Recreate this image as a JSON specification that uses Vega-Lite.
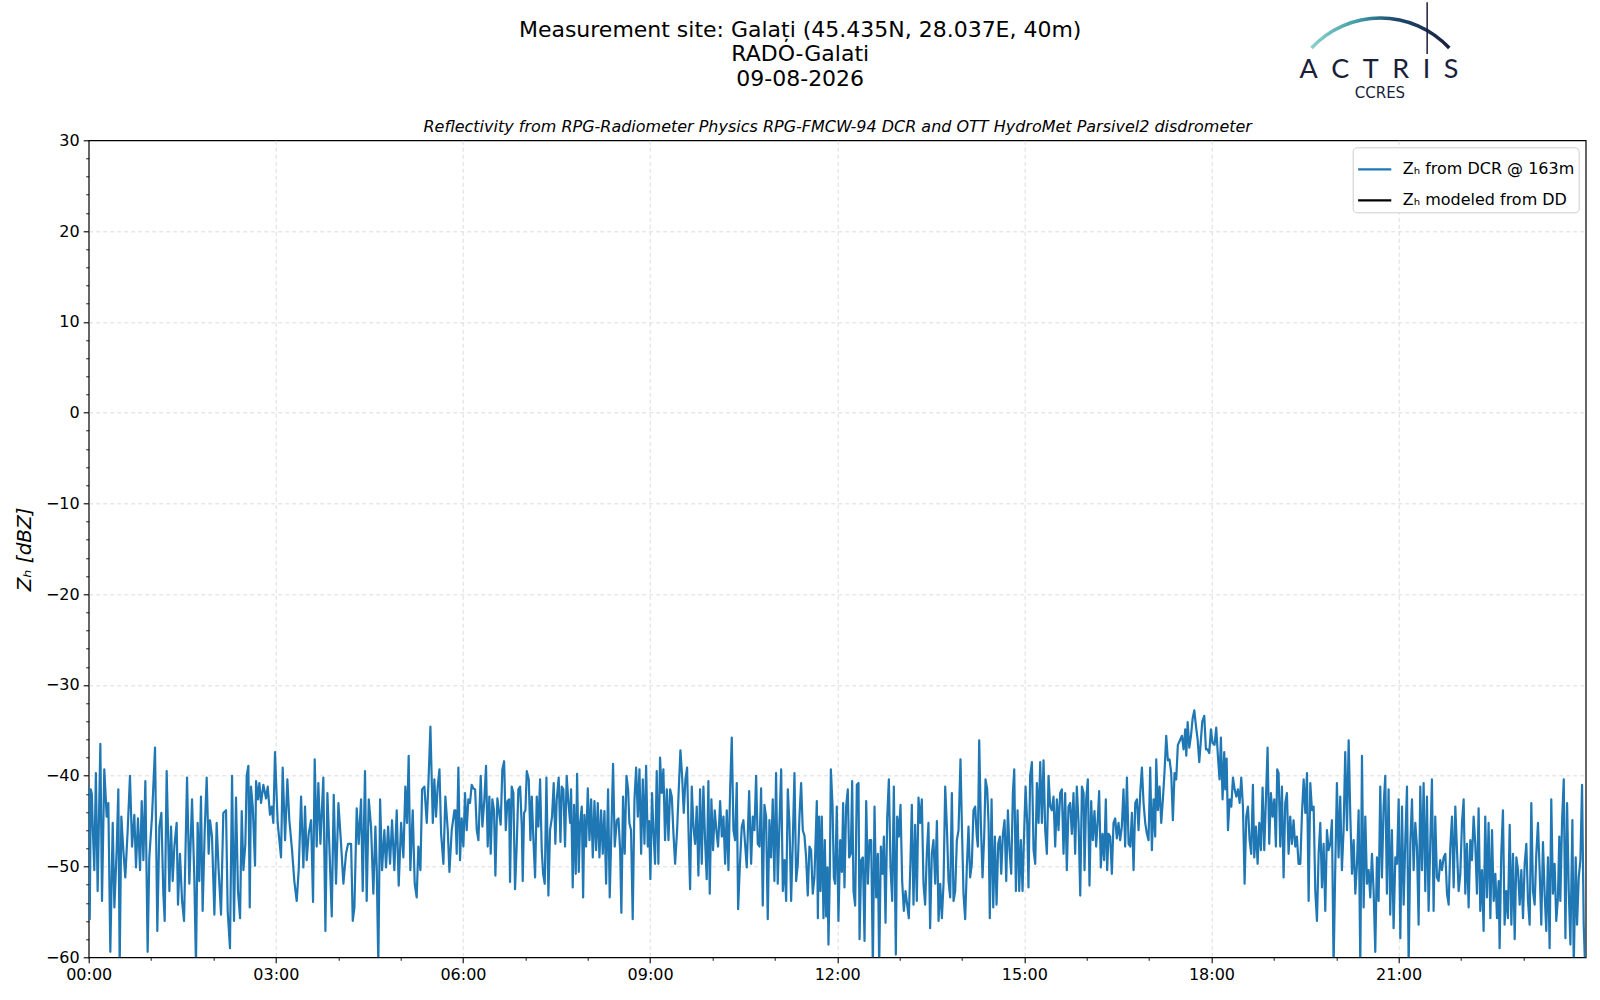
{
"$schema":"https://vega.github.io/schema/vega-lite/v6.json",
"width":1497,"height":817,
"autosize":{"type":"none"},
"padding":{"left":88.7,"top":140.3,"right":14.7,"bottom":42.7},
"background":"white",
"title":{"text":["Measurement site: Galați (45.435N, 28.037E, 40m)","RADO-Galati","09-08-2026"],"font":"DejaVu Sans","fontSize":22,"fontWeight":"normal","color":"black","anchor":"middle","frame":"group","dx":-37,"dy":118,"lineHeight":24.5,"offset":29},
"config":{"view":{"stroke":"black","strokeWidth":1.2},"font":"DejaVu Sans"},
"resolve":{"axis":{"x":"independent","y":"independent"}},
"layer":[
{"data":{"values":[
{"t":0,"z":-41.2},{"t":1,"z":-55.8},{"t":2,"z":-41.5},{"t":3,"z":-42},{"t":4,"z":-46},{"t":5.4,"z":-50.4},{"t":6.9,"z":-39.7},{"t":8.6,"z":-52.7},{"t":11.2,"z":-36.5},{"t":12.8,"z":-53.8},{"t":15,"z":-39.3},{"t":17.3,"z":-44.5},{"t":18.9,"z":-43},{"t":20.8,"z":-59.4},{"t":23.1,"z":-45.2},{"t":24.7,"z":-54.5},{"t":26.9,"z":-48.2},{"t":28.5,"z":-41.5},{"t":29.8,"z":-61},{"t":31.4,"z":-44.5},{"t":33.3,"z":-48.2},{"t":35.2,"z":-51.2},{"t":37.5,"z":-46},{"t":39.7,"z":-40},{"t":41.7,"z":-47.8},{"t":43.9,"z":-44.3},{"t":45.5,"z":-50.1},{"t":47.4,"z":-44.7},{"t":49.4,"z":-50.4},{"t":51,"z":-42.8},{"t":52.6,"z":-49.3},{"t":54.5,"z":-40.6},{"t":56.7,"z":-59.4},{"t":58.3,"z":-49},{"t":60.9,"z":-44.5},{"t":63.8,"z":-36.9},{"t":66,"z":-57.1},{"t":68,"z":-45.6},{"t":69.9,"z":-44.1},{"t":71.8,"z":-53},{"t":73.1,"z":-56},{"t":75,"z":-39.5},{"t":77.6,"z":-52.7},{"t":79.2,"z":-45.6},{"t":80.8,"z":-51.6},{"t":82.4,"z":-47.8},{"t":84.6,"z":-45.2},{"t":85.9,"z":-54.2},{"t":87.8,"z":-48.6},{"t":89.8,"z":-53.8},{"t":91.7,"z":-56},{"t":94.6,"z":-40.2},{"t":96.8,"z":-51.9},{"t":99.4,"z":-42.6},{"t":101.6,"z":-51.2},{"t":103.2,"z":-61},{"t":104.8,"z":-45.2},{"t":106.4,"z":-51.6},{"t":108,"z":-42.3},{"t":109.6,"z":-54.9},{"t":111.6,"z":-46},{"t":113.5,"z":-40.2},{"t":115.4,"z":-48.6},{"t":116.7,"z":-44.9},{"t":118.6,"z":-46.7},{"t":120.9,"z":-55.3},{"t":123.1,"z":-45.2},{"t":125,"z":-50.4},{"t":127.3,"z":-55.3},{"t":129.5,"z":-44.1},{"t":132.1,"z":-43.8},{"t":133.7,"z":-54.9},{"t":135.9,"z":-59},{"t":137.9,"z":-40},{"t":139.8,"z":-56},{"t":141.7,"z":-42.4},{"t":143.6,"z":-52.7},{"t":145.6,"z":-55.7},{"t":147.2,"z":-43.9},{"t":148.8,"z":-50.4},{"t":150.7,"z":-47.5},{"t":152,"z":-40},{"t":153.6,"z":-38.9},{"t":154.9,"z":-54.5},{"t":156.1,"z":-41.2},{"t":157.8,"z":-43.4},{"t":160,"z":-49.9},{"t":161,"z":-40.6},{"t":162.9,"z":-42.6},{"t":164.2,"z":-40.8},{"t":165.8,"z":-43},{"t":168,"z":-41},{"t":170.6,"z":-42.5},{"t":172.2,"z":-41.2},{"t":174.4,"z":-44.3},{"t":176,"z":-43.4},{"t":177.6,"z":-45.2},{"t":179.2,"z":-37.4},{"t":181.8,"z":-45.2},{"t":185,"z":-49},{"t":186.6,"z":-39.1},{"t":188.9,"z":-47.1},{"t":191.1,"z":-40.4},{"t":193,"z":-44.9},{"t":195.6,"z":-48.2},{"t":197.8,"z":-51.6},{"t":200.1,"z":-53.8},{"t":202,"z":-50.4},{"t":204.3,"z":-42.3},{"t":206.5,"z":-50.1},{"t":208.1,"z":-43.4},{"t":209.7,"z":-49.3},{"t":211.6,"z":-46.4},{"t":213.9,"z":-44.9},{"t":215.8,"z":-53.9},{"t":217.4,"z":-38.2},{"t":219.3,"z":-47.8},{"t":220.9,"z":-40.8},{"t":222.9,"z":-47.5},{"t":225.7,"z":-40.2},{"t":227.7,"z":-57.1},{"t":229.6,"z":-41.9},{"t":231.5,"z":-47.8},{"t":233.8,"z":-55.5},{"t":235.7,"z":-42.1},{"t":237.9,"z":-51.9},{"t":240.2,"z":-43},{"t":242.7,"z":-47.4},{"t":245,"z":-51.9},{"t":247.5,"z":-48.6},{"t":249.5,"z":-47.5},{"t":252.4,"z":-47.5},{"t":254,"z":-56},{"t":255.6,"z":-54.5},{"t":257.8,"z":-43.6},{"t":259.7,"z":-47.5},{"t":262,"z":-42.6},{"t":263.6,"z":-52.7},{"t":265.8,"z":-39.5},{"t":267.4,"z":-53.8},{"t":269.4,"z":-42.6},{"t":271.6,"z":-45.6},{"t":273.8,"z":-53},{"t":275.8,"z":-45.6},{"t":277.1,"z":-50.4},{"t":278.6,"z":-61},{"t":280.3,"z":-42.6},{"t":282.2,"z":-50.4},{"t":284.4,"z":-46},{"t":286,"z":-50.1},{"t":288,"z":-45.6},{"t":289.9,"z":-49.7},{"t":291.8,"z":-44.9},{"t":294,"z":-50.4},{"t":296.3,"z":-43.8},{"t":298.2,"z":-52.1},{"t":300.5,"z":-45.2},{"t":302.7,"z":-49},{"t":304.6,"z":-41.2},{"t":306.2,"z":-45.2},{"t":307.8,"z":-37.8},{"t":309.4,"z":-50.4},{"t":311.7,"z":-43.8},{"t":313.6,"z":-51.9},{"t":315.5,"z":-53.4},{"t":317.1,"z":-47.8},{"t":319.1,"z":-50.4},{"t":320.7,"z":-41.5},{"t":322.9,"z":-41.2},{"t":325.2,"z":-45.2},{"t":326.8,"z":-40.8},{"t":328.7,"z":-34.6},{"t":331,"z":-45.2},{"t":332.5,"z":-40.4},{"t":334.1,"z":-44.5},{"t":335.7,"z":-41.2},{"t":337.4,"z":-39.3},{"t":339,"z":-46.4},{"t":341.2,"z":-49.7},{"t":343.1,"z":-42.3},{"t":345.4,"z":-46},{"t":347,"z":-50.6},{"t":349.2,"z":-46},{"t":351.8,"z":-43.8},
{"t":352.7,"z":-43.8},{"t":354,"z":-48.6},{"t":355.6,"z":-39.1},{"t":357.2,"z":-49.3},{"t":358.8,"z":-44.7},{"t":360.4,"z":-47.8},{"t":362,"z":-41.9},{"t":363.6,"z":-46},{"t":365.2,"z":-42.6},{"t":366.8,"z":-43},{"t":368.4,"z":-41},{"t":370,"z":-41.4},{"t":371.7,"z":-41.5},{"t":373.3,"z":-46},{"t":374.9,"z":-47.1},{"t":377.1,"z":-40},{"t":378.7,"z":-45.6},{"t":380.6,"z":-42.6},{"t":382.2,"z":-38.9},{"t":383.8,"z":-47.8},{"t":385.4,"z":-42.3},{"t":386.7,"z":-48.6},{"t":388.3,"z":-42.6},{"t":389.9,"z":-43.8},{"t":391.2,"z":-51},{"t":393.1,"z":-42.5},{"t":395.1,"z":-44.3},{"t":396.3,"z":-45.4},{"t":397.9,"z":-39.3},{"t":399.6,"z":-38.4},{"t":401.2,"z":-46},{"t":402.8,"z":-42.8},{"t":404.4,"z":-42.6},{"t":405.3,"z":-51.7},{"t":406.9,"z":-41.2},{"t":408.5,"z":-41.9},{"t":410.1,"z":-52.5},{"t":411.7,"z":-47.8},{"t":413.3,"z":-41.5},{"t":415,"z":-41.2},{"t":416.6,"z":-45.6},{"t":417.5,"z":-51.6},{"t":418.8,"z":-44.1},{"t":420.1,"z":-43.8},{"t":421.4,"z":-39.5},{"t":423.3,"z":-40.4},{"t":424.9,"z":-47.1},{"t":426.2,"z":-42.3},{"t":427.8,"z":-47.1},{"t":429.4,"z":-51.2},{"t":431,"z":-42.3},{"t":432.6,"z":-45.6},{"t":434.2,"z":-40.4},{"t":435.8,"z":-48.2},{"t":437.1,"z":-50.8},{"t":438.7,"z":-51.9},{"t":440.3,"z":-40.2},{"t":442.2,"z":-53.2},{"t":443.8,"z":-46},{"t":445.7,"z":-44.5},{"t":447.3,"z":-40.8},{"t":448.9,"z":-47.5},{"t":450.2,"z":-42.6},{"t":452.1,"z":-40.2},{"t":453.8,"z":-47.3},{"t":455,"z":-41.2},{"t":456.6,"z":-41.5},{"t":458.2,"z":-47.8},{"t":459.8,"z":-40},{"t":461.5,"z":-43},{"t":463.1,"z":-45.2},{"t":464,"z":-41.5},{"t":465.6,"z":-52.3},{"t":466.9,"z":-43.2},{"t":468.5,"z":-50.8},{"t":469.8,"z":-39.8},{"t":471.4,"z":-50.6},{"t":472.7,"z":-45.2},{"t":474.3,"z":-43.4},{"t":475.6,"z":-53.4},{"t":476.8,"z":-44.3},{"t":478.4,"z":-47.8},{"t":480.1,"z":-41.4},{"t":481.7,"z":-47.1},{"t":483.3,"z":-42.6},{"t":484.9,"z":-49},{"t":486.5,"z":-42.8},{"t":488.1,"z":-48.2},{"t":489.7,"z":-43},{"t":491.3,"z":-49},{"t":492.9,"z":-43.8},{"t":494.5,"z":-48.6},{"t":496.1,"z":-43.9},{"t":497.7,"z":-51.9},{"t":499.6,"z":-41.5},{"t":501.2,"z":-53.4},{"t":502.8,"z":-46},{"t":504.4,"z":-38.7},{"t":506,"z":-47.8},{"t":508,"z":-44.9},{"t":509.6,"z":-44.7},{"t":511.2,"z":-48.2},{"t":512.4,"z":-55.1},{"t":514,"z":-42.3},{"t":515.6,"z":-48.6},{"t":517.3,"z":-40},{"t":518.9,"z":-41.5},{"t":520.1,"z":-45.2},{"t":521.7,"z":-46},{"t":523.3,"z":-55.8},{"t":525,"z":-42.6},{"t":526.6,"z":-39.1},{"t":528.2,"z":-44.5},{"t":529.8,"z":-39.3},{"t":531.4,"z":-48.6},{"t":533,"z":-40.4},{"t":534.6,"z":-47.5},{"t":536.2,"z":-38.9},{"t":537.8,"z":-47.8},{"t":539.1,"z":-45},{"t":540.3,"z":-51.4},{"t":541.9,"z":-41.9},{"t":543.2,"z":-46},{"t":544.8,"z":-49.7},{"t":546.4,"z":-39.5},{"t":548,"z":-49.7},{"t":549.6,"z":-38},{"t":551.2,"z":-41.9},{"t":552.8,"z":-39.3},{"t":554.4,"z":-47.1},{"t":556.1,"z":-41.5},{"t":557.7,"z":-47.1},{"t":559.3,"z":-41.5},{"t":560.9,"z":-42.3},{"t":562.5,"z":-46.4},{"t":564.1,"z":-49.7},{"t":566,"z":-46},{"t":567.6,"z":-41.5},{"t":569.2,"z":-37.2},{"t":570.8,"z":-40},{"t":572.4,"z":-44.1},{"t":574,"z":-40.4},{"t":575.6,"z":-39.1},{"t":577.2,"z":-47.1},{"t":578.5,"z":-52.5},{"t":580.1,"z":-41.2},{"t":581.7,"z":-45.6},{"t":583.3,"z":-47.5},{"t":584.9,"z":-43.4},{"t":586.5,"z":-51},{"t":588.1,"z":-41.5},{"t":589.7,"z":-49.7},{"t":591.3,"z":-41.2},{"t":592.9,"z":-47.1},{"t":594.5,"z":-51.4},{"t":596.1,"z":-40.6},{"t":597.4,"z":-53},{"t":599,"z":-42.6},{"t":600.6,"z":-48.2},{"t":602.2,"z":-43.8},{"t":603.8,"z":-46},{"t":605.4,"z":-47.8},{"t":607.4,"z":-42.8},{"t":609,"z":-46.7},{"t":610.6,"z":-44.5},{"t":612.2,"z":-49.7},{"t":613.8,"z":-43.8},{"t":615.4,"z":-50.4},{"t":617,"z":-41.5},{"t":618.6,"z":-35.8},{"t":620.2,"z":-46},{"t":621.8,"z":-47.1},{"t":623.4,"z":-40.8},{"t":624.7,"z":-54.7},{"t":626.3,"z":-50.1},{"t":628.2,"z":-45.6},{"t":629.8,"z":-44.9},{"t":631.4,"z":-47.5},{"t":633,"z":-50.1},{"t":635.3,"z":-41.7},{"t":637.2,"z":-49.7},{"t":638.8,"z":-44.5},{"t":640.4,"z":-46},{"t":642,"z":-40},{"t":643.6,"z":-47.5},{"t":645.2,"z":-47.8},{"t":646.8,"z":-41.4},{"t":648.4,"z":-54.3},{"t":650,"z":-43.2},{"t":651.6,"z":-44.5},{"t":653.2,"z":-55.8},{"t":654.8,"z":-44.9},{"t":656.4,"z":-49},{"t":658,"z":-42.6},{"t":659.6,"z":-51.6},{"t":661.2,"z":-39.7},{"t":662.8,"z":-51.9},{"t":664.5,"z":-45.2},{"t":666.1,"z":-39.3},{"t":667.7,"z":-52.7},{"t":669.3,"z":-49.3},{"t":670.9,"z":-53.8},{"t":672.5,"z":-41.5},{"t":674.1,"z":-45.4},{"t":675.7,"z":-53.8},{"t":677.3,"z":-47.1},{"t":678.9,"z":-39.7},{"t":680.5,"z":-51.6},{"t":682.1,"z":-49.7},{"t":683.7,"z":-44.5},{"t":685.3,"z":-40.8},{"t":686.9,"z":-46},{"t":688.5,"z":-46.6},{"t":690.1,"z":-49},{"t":691.7,"z":-53.2},{"t":693.3,"z":-47.8},{"t":694.9,"z":-48.2},{"t":696.5,"z":-53},{"t":698.1,"z":-51.2},
{"t":700.4,"z":-42.8},{"t":701.4,"z":-55.7},{"t":702.6,"z":-44.5},{"t":703.9,"z":-52.7},{"t":705.2,"z":-44.5},{"t":706.8,"z":-55.7},{"t":708.1,"z":-47.1},{"t":709.4,"z":-55.5},{"t":710.7,"z":-50.1},{"t":711.6,"z":-58.6},{"t":712.9,"z":-50.8},{"t":713.9,"z":-39.3},{"t":715.5,"z":-43.2},{"t":716.8,"z":-51.2},{"t":718,"z":-51.9},{"t":719.6,"z":-43.4},{"t":721.2,"z":-56},{"t":722.9,"z":-47.1},{"t":724.5,"z":-50.6},{"t":725.7,"z":-43},{"t":727,"z":-52.3},{"t":728.6,"z":-43.4},{"t":730.2,"z":-41.5},{"t":731.5,"z":-49},{"t":733.1,"z":-48.6},{"t":734.4,"z":-40.6},{"t":735.7,"z":-52.7},{"t":737.3,"z":-54.3},{"t":738.9,"z":-41},{"t":740.5,"z":-40.8},{"t":741.5,"z":-58},{"t":743.1,"z":-49.3},{"t":744.7,"z":-49},{"t":746.3,"z":-58.2},{"t":747.9,"z":-42.8},{"t":749.5,"z":-51.9},{"t":751.1,"z":-47.1},{"t":752.7,"z":-47.1},{"t":754.3,"z":-61},{"t":755.9,"z":-43.4},{"t":757.5,"z":-53.4},{"t":759.1,"z":-48.6},{"t":760.4,"z":-61},{"t":762,"z":-47.8},{"t":763.6,"z":-50.8},{"t":764.9,"z":-46.7},{"t":766.5,"z":-56.2},{"t":768.1,"z":-44.7},{"t":769.7,"z":-40.4},{"t":771.3,"z":-50.1},{"t":772.9,"z":-53.8},{"t":774.5,"z":-41.2},{"t":776.4,"z":-59.7},{"t":777.7,"z":-44.5},{"t":779.3,"z":-46.7},{"t":780.9,"z":-43.2},{"t":782.5,"z":-51.6},{"t":784.1,"z":-54.9},{"t":785.7,"z":-52.7},{"t":787.3,"z":-54.2},{"t":788.9,"z":-55.7},{"t":790.5,"z":-49.3},{"t":791.8,"z":-43.2},{"t":793.4,"z":-54.2},{"t":795,"z":-45.4},{"t":796.6,"z":-53.8},{"t":798.2,"z":-42.4},{"t":799.8,"z":-45.2},{"t":801.4,"z":-42.6},{"t":803,"z":-51.9},{"t":804.6,"z":-54.2},{"t":806.2,"z":-48.6},{"t":807.8,"z":-45.2},{"t":809.4,"z":-56.8},{"t":811,"z":-48.6},{"t":812.6,"z":-47.1},{"t":814.3,"z":-51.9},{"t":815.9,"z":-45},{"t":817.5,"z":-56},{"t":819.1,"z":-51.9},{"t":820.7,"z":-55.7},{"t":822.3,"z":-51.9},{"t":823.9,"z":-41.2},{"t":825.5,"z":-45.6},{"t":827.1,"z":-51.6},{"t":828.7,"z":-53.4},{"t":830.3,"z":-41.9},{"t":831.9,"z":-53.8},{"t":833.5,"z":-52.7},{"t":835.1,"z":-47.1},{"t":836.7,"z":-46},{"t":838.6,"z":-38.2},{"t":839.9,"z":-45.2},{"t":841.5,"z":-53},{"t":843.1,"z":-55.8},{"t":844.7,"z":-50.1},{"t":846.3,"z":-45.6},{"t":847.9,"z":-51.2},{"t":849.5,"z":-49.7},{"t":851.1,"z":-43.8},{"t":852.7,"z":-43.4},{"t":854.3,"z":-46.7},{"t":855.3,"z":-47.8},{"t":856.6,"z":-36.1},{"t":858.2,"z":-45.2},{"t":859.8,"z":-51.2},{"t":861.4,"z":-46.7},{"t":862.7,"z":-40.4},{"t":864.3,"z":-41.5},{"t":865.6,"z":-45.2},{"t":866.8,"z":-55.7},{"t":868.5,"z":-42.6},{"t":870.1,"z":-54.5},{"t":871.7,"z":-46.7},{"t":873.3,"z":-54.2},{"t":874.9,"z":-47.5},{"t":876.5,"z":-46.7},{"t":877.8,"z":-50.8},{"t":879.4,"z":-46.4},{"t":881,"z":-44.9},{"t":882.6,"z":-51.6},{"t":884.2,"z":-43.8},{"t":885.8,"z":-48.2},{"t":887.4,"z":-50.8},{"t":889,"z":-41.9},{"t":890.3,"z":-39.3},{"t":891.9,"z":-52.7},{"t":893.5,"z":-43.8},{"t":895.1,"z":-52.7},{"t":896.7,"z":-47.1},{"t":898.3,"z":-52.7},{"t":899.6,"z":-47.1},{"t":901.2,"z":-41.2},{"t":902.8,"z":-45.2},{"t":904,"z":-52.3},{"t":905.6,"z":-40},{"t":907.3,"z":-38.5},{"t":908.9,"z":-48.2},{"t":910.5,"z":-49.7},{"t":912.1,"z":-40.8},{"t":913.7,"z":-45.2},{"t":915.3,"z":-38.5},{"t":916.9,"z":-45.2},{"t":918.5,"z":-38.3},{"t":920.1,"z":-46},{"t":921.7,"z":-48.6},{"t":923.3,"z":-40},{"t":924.9,"z":-43.4},{"t":926.5,"z":-43.8},{"t":928.1,"z":-42.3},{"t":929.7,"z":-47.8},{"t":931.3,"z":-42.6},{"t":932.9,"z":-46},{"t":934.5,"z":-41.9},{"t":936.1,"z":-41.5},{"t":937.7,"z":-48.6},{"t":939.3,"z":-41.9},{"t":940.9,"z":-50.4},{"t":942.5,"z":-43.4},{"t":944.1,"z":-43},{"t":945.7,"z":-46.4},{"t":947.3,"z":-41.9},{"t":948.9,"z":-48.6},{"t":950.5,"z":-41.2},{"t":952.2,"z":-45.2},{"t":953.8,"z":-53.2},{"t":955.4,"z":-41.2},{"t":957,"z":-41.9},{"t":957.9,"z":-50.4},{"t":959.5,"z":-42.6},{"t":961.1,"z":-40.4},{"t":962.7,"z":-52.1},{"t":964.3,"z":-42.8},{"t":965.9,"z":-47.1},{"t":967.5,"z":-43.9},{"t":969.1,"z":-47.8},{"t":970.8,"z":-44.5},{"t":972,"z":-41.7},{"t":973.6,"z":-50.1},{"t":975.2,"z":-46.4},{"t":976.8,"z":-49.3},{"t":978.4,"z":-42.6},{"t":979.7,"z":-50.4},{"t":981,"z":-46.4},{"t":982.6,"z":-46.7},{"t":984.2,"z":-50.8},{"t":985.8,"z":-45.2},{"t":987.4,"z":-44.7},{"t":989,"z":-46.9},{"t":990.6,"z":-45.2},{"t":992.2,"z":-47.1},{"t":993.8,"z":-45.6},{"t":995.4,"z":-41.5},{"t":997,"z":-47.8},{"t":998.7,"z":-40.2},{"t":1000.3,"z":-47.5},{"t":1001.9,"z":-47.8},{"t":1003.5,"z":-44.1},{"t":1005.1,"z":-50.4},{"t":1006.7,"z":-43},{"t":1008.3,"z":-42.6},{"t":1009.9,"z":-46},{"t":1011.5,"z":-41.9},{"t":1013.1,"z":-39.1},{"t":1014.7,"z":-43},{"t":1016.3,"z":-45.2},{"t":1017.9,"z":-46.4},{"t":1019.5,"z":-47.1},{"t":1021.1,"z":-39.1},{"t":1022.7,"z":-48.2},{"t":1024.3,"z":-42.6},{"t":1025.9,"z":-46.7},{"t":1026.9,"z":-38.2},{"t":1028.5,"z":-43.8},{"t":1030.1,"z":-41.2},{"t":1031.7,"z":-45.2},{"t":1033.3,"z":-42.6},{"t":1034.9,"z":-39.5},{"t":1036.5,"z":-35.6},{"t":1038.1,"z":-38.3},{"t":1039.7,"z":-38.2},{"t":1041.3,"z":-39.7},{"t":1042.9,"z":-44.9},{"t":1044.5,"z":-39.7},{"t":1046.1,"z":-40.4},{"t":1047.7,"z":-36.6},{"t":1049.3,"z":-36.2},
{"t":1051.6,"z":-35.6},{"t":1053.2,"z":-37.1},{"t":1054.8,"z":-34.9},{"t":1055.8,"z":-37.8},{"t":1057.1,"z":-34.1},{"t":1058.7,"z":-36.9},{"t":1060.3,"z":-35.6},{"t":1061.9,"z":-33.7},{"t":1063.5,"z":-32.8},{"t":1065.1,"z":-34.5},{"t":1066.7,"z":-36},{"t":1068.3,"z":-38.5},{"t":1069.9,"z":-36},{"t":1071.2,"z":-34},{"t":1073.1,"z":-33.4},{"t":1074.7,"z":-37.1},{"t":1076.3,"z":-37.1},{"t":1077.9,"z":-37.5},{"t":1079.5,"z":-34.9},{"t":1081.1,"z":-36.4},{"t":1083,"z":-36.6},{"t":1084.6,"z":-34.7},{"t":1086.2,"z":-37.8},{"t":1087.8,"z":-40.4},{"t":1089.1,"z":-35.8},{"t":1090.7,"z":-42.6},{"t":1092.3,"z":-37.4},{"t":1093.3,"z":-41.5},{"t":1094.6,"z":-38.1},{"t":1095.9,"z":-46},{"t":1097.5,"z":-42.6},{"t":1099.1,"z":-43.4},{"t":1100.7,"z":-40.2},{"t":1102.3,"z":-41.5},{"t":1103.9,"z":-42.3},{"t":1105.5,"z":-41.5},{"t":1107.1,"z":-43},{"t":1108.7,"z":-40.2},{"t":1110.3,"z":-43.4},{"t":1111.9,"z":-51.9},{"t":1113.5,"z":-44.5},{"t":1115.1,"z":-43.4},{"t":1116.7,"z":-47.1},{"t":1118.3,"z":-48.6},{"t":1119.9,"z":-41},{"t":1121.2,"z":-49},{"t":1122.8,"z":-45.6},{"t":1124.4,"z":-49.7},{"t":1126,"z":-45.2},{"t":1127.6,"z":-48.2},{"t":1129.2,"z":-41.3},{"t":1130.8,"z":-48.2},{"t":1132.4,"z":-42.6},{"t":1134,"z":-36.9},{"t":1135.6,"z":-47.5},{"t":1137.2,"z":-41.9},{"t":1138.8,"z":-44.5},{"t":1140.4,"z":-42.6},{"t":1142,"z":-47.8},{"t":1143.3,"z":-39.3},{"t":1144.6,"z":-39.7},{"t":1146.2,"z":-47.8},{"t":1147.8,"z":-41.2},{"t":1149.4,"z":-51.2},{"t":1151,"z":-43},{"t":1152.6,"z":-41.9},{"t":1154.2,"z":-48.6},{"t":1155.8,"z":-44.5},{"t":1157.4,"z":-47.5},{"t":1159,"z":-44.9},{"t":1160.6,"z":-47.8},{"t":1162.2,"z":-46.7},{"t":1163.8,"z":-49.7},{"t":1165.5,"z":-49.7},{"t":1167.1,"z":-44.1},{"t":1168.7,"z":-40.4},{"t":1170.3,"z":-44.1},{"t":1171.9,"z":-39.7},{"t":1173.5,"z":-53.8},{"t":1175.1,"z":-40.8},{"t":1176.7,"z":-43.8},{"t":1178.3,"z":-43.4},{"t":1179.9,"z":-52.7},{"t":1181.5,"z":-56},{"t":1183.1,"z":-48.6},{"t":1184.7,"z":-45.2},{"t":1186.3,"z":-52.3},{"t":1187.9,"z":-47.5},{"t":1189.5,"z":-54.9},{"t":1191.1,"z":-46},{"t":1192.7,"z":-48.2},{"t":1194.3,"z":-47.5},{"t":1195.9,"z":-44.9},{"t":1197.5,"z":-61},{"t":1199.1,"z":-50.1},{"t":1200.7,"z":-40.8},{"t":1202.3,"z":-49},{"t":1203.9,"z":-42.3},{"t":1205.5,"z":-50.4},{"t":1207.1,"z":-46},{"t":1208.7,"z":-37.4},{"t":1210.4,"z":-46},{"t":1212,"z":-36.1},{"t":1213.6,"z":-44.5},{"t":1215.2,"z":-50.8},{"t":1216.8,"z":-47.1},{"t":1218.4,"z":-53},{"t":1220,"z":-49.7},{"t":1221.6,"z":-43.8},{"t":1223.2,"z":-61},{"t":1224.8,"z":-37.8},{"t":1226.4,"z":-54.5},{"t":1228,"z":-44.5},{"t":1229.6,"z":-51.9},{"t":1231.2,"z":-50.4},{"t":1232.8,"z":-53.4},{"t":1234.4,"z":-48.6},{"t":1236,"z":-52.7},{"t":1237.6,"z":-59.4},{"t":1239.2,"z":-49},{"t":1240.8,"z":-53.8},{"t":1242.4,"z":-41.2},{"t":1244,"z":-51.2},{"t":1245.6,"z":-43.4},{"t":1247.2,"z":-40},{"t":1248.8,"z":-53},{"t":1250.4,"z":-41.5},{"t":1252,"z":-55.3},{"t":1253.6,"z":-46},{"t":1255.2,"z":-56.8},{"t":1256.9,"z":-49},{"t":1258.5,"z":-49.7},{"t":1260.1,"z":-42.6},{"t":1261.7,"z":-57.9},{"t":1263.3,"z":-43.4},{"t":1264.9,"z":-54.2},{"t":1266.5,"z":-47.1},{"t":1268.1,"z":-41.2},{"t":1269.7,"z":-61},{"t":1271.3,"z":-47.5},{"t":1272.9,"z":-42.6},{"t":1274.5,"z":-50.4},{"t":1276.1,"z":-45.2},{"t":1277.7,"z":-47.8},{"t":1279.3,"z":-56.4},{"t":1280.9,"z":-41.2},{"t":1282.5,"z":-50.4},{"t":1284.1,"z":-40.8},{"t":1285.7,"z":-52.7},{"t":1287.3,"z":-42.3},{"t":1288.9,"z":-54.9},{"t":1290.5,"z":-47.5},{"t":1292.1,"z":-40.4},{"t":1293.7,"z":-54.9},{"t":1295.3,"z":-44.5},{"t":1296.9,"z":-51.2},{"t":1298.5,"z":-51.6},{"t":1300.1,"z":-49.3},{"t":1301.7,"z":-50.4},{"t":1303.4,"z":-49},{"t":1305,"z":-48.6},{"t":1306.6,"z":-53},{"t":1308.2,"z":-54.2},{"t":1309.8,"z":-47.8},{"t":1311.4,"z":-44.5},{"t":1313,"z":-52.3},{"t":1314.6,"z":-43.4},{"t":1316.2,"z":-48.2},{"t":1317.8,"z":-52.7},{"t":1319.4,"z":-50.8},{"t":1321,"z":-45.2},{"t":1322.6,"z":-42.6},{"t":1324.2,"z":-53},{"t":1325.8,"z":-47.5},{"t":1327.4,"z":-54.5},{"t":1329,"z":-47.1},{"t":1330.6,"z":-49.3},{"t":1332.2,"z":-44.5},{"t":1333.8,"z":-47.5},{"t":1335.4,"z":-53},{"t":1337,"z":-43.6},{"t":1338.6,"z":-54.9},{"t":1340.2,"z":-50.4},{"t":1341.8,"z":-57.1},{"t":1343.4,"z":-44.5},{"t":1345,"z":-53.4},{"t":1346.6,"z":-45.2},{"t":1348.3,"z":-55.7},{"t":1349.9,"z":-46},{"t":1351.5,"z":-53.8},{"t":1353.1,"z":-50.8},{"t":1354.7,"z":-55.7},{"t":1356.3,"z":-51.6},{"t":1357.2,"z":-59},{"t":1358.8,"z":-48.6},{"t":1360.4,"z":-43.8},{"t":1362,"z":-56.4},{"t":1363.6,"z":-52.7},{"t":1365.2,"z":-55.7},{"t":1366.9,"z":-45.4},{"t":1368.5,"z":-56.4},{"t":1370.1,"z":-48.6},{"t":1371.7,"z":-58},{"t":1373.3,"z":-49},{"t":1374.9,"z":-50.4},{"t":1376.5,"z":-54.2},{"t":1378.1,"z":-50.4},{"t":1379.7,"z":-55.7},{"t":1381.3,"z":-49.7},{"t":1382.9,"z":-47.5},{"t":1384.5,"z":-53.8},{"t":1386.1,"z":-56.4},{"t":1387.7,"z":-43},{"t":1389.3,"z":-52.7},{"t":1390.9,"z":-54.2},{"t":1392.5,"z":-48.6},{"t":1394.1,"z":-45.2},{"t":1395.7,"z":-50.4},{"t":1397.3,"z":-56.4},{"t":1398.9,"z":-47.3},{"t":1400.5,"z":-53},{"t":1402.1,"z":-57.1},{"t":1403.7,"z":-49},{"t":1405.3,"z":-59},{"t":1406.9,"z":-42.6},{"t":1408.5,"z":-53},{"t":1410.1,"z":-49.7},{"t":1411.7,"z":-56},{"t":1413.3,"z":-53.4},{"t":1414.6,"z":-46.7},{"t":1415.6,"z":-53.8},
{"t":1417.3,"z":-44.9},{"t":1418.9,"z":-40.4},{"t":1420.5,"z":-57.9},{"t":1422.1,"z":-43},{"t":1423.7,"z":-52.7},{"t":1425.3,"z":-58.6},{"t":1427.2,"z":-44.9},{"t":1428.5,"z":-61},{"t":1430.4,"z":-49},{"t":1431.7,"z":-56.4},{"t":1433.3,"z":-51.2},{"t":1434.9,"z":-49.3},{"t":1436.5,"z":-41},{"t":1438.1,"z":-56.4},{"t":1439.4,"z":-61}
]},
"mark":{"type":"line","strokeWidth":2.2,"clip":true,"strokeJoin":"round"},
"encoding":{
"x":{"field":"t","type":"quantitative","scale":{"domain":[0,1440],"nice":false,"zero":false},
"axis":{"orient":"bottom","values":[0,180,360,540,720,900,1080,1260],"labelExpr":"(datum.value < 600 ? '0' : '') + floor(datum.value/60) + ':00'","title":null,"grid":false,"tickSize":5.5,"tickColor":"black","tickWidth":1.1,"domain":false,"labelFont":"DejaVu Sans","labelFontSize":16,"labelColor":"black","labelPadding":4,"labelFlush":false,"labelOverlap":false,"labelBound":false}},
"y":{"field":"z","type":"quantitative","scale":{"domain":[-60,30],"nice":false,"zero":false},
"axis":{"orient":"left","values":[-60,-50,-40,-30,-20,-10,0,10,20,30],"title":"Zₕ [dBZ]","titleFont":"DejaVu Sans","titleFontSize":20,"titleFontStyle":"italic","titleFontWeight":"normal","titleColor":"black","titlePadding":11,"grid":false,"tickSize":5.5,"tickColor":"black","tickWidth":1.1,"domain":false,"labelFont":"DejaVu Sans","labelFontSize":16,"labelColor":"black","labelPadding":4,"labelFlush":false,"labelOverlap":false,"labelBound":false}},
"color":{"datum":"Zₕ from DCR @ 163m","type":"nominal","scale":{"domain":["Zₕ from DCR @ 163m","Zₕ modeled from DD"],"range":["#1f77b4","#000000"]},
"legend":{"orient":"top-right","offset":7,"title":null,"labelFont":"DejaVu Sans","labelFontSize":16,"labelColor":"black","labelLimit":400,"symbolType":"stroke","symbolStrokeWidth":2.2,"symbolSize":1100,"strokeColor":"#cccccc","fillColor":"white","cornerRadius":4,"padding":4,"rowPadding":5,"labelOffset":10}}
}},
{"data":{"values":[{"label":"A\u2002C\u2002T\u2002R\u2002I\u2002S"}]},
"mark":{"type":"text","font":"Lato","fontWeight":"normal","fontSize":27,"color":"#1b1f3b","align":"center","baseline":"middle"},
"encoding":{
"text":{"field":"label"},
"x":{"datum":1241.1,"type":"quantitative","scale":{"domain":[0,1440],"nice":false,"zero":false},
"axis":{"orient":"bottom","values":[60,120,240,300,420,480,600,660,780,840,960,1020,1140,1200,1320,1380],"labels":false,"grid":false,"domain":false,"title":null,"tickSize":3,"tickColor":"black","tickWidth":0.9}},
"y":{"datum":37.7,"type":"quantitative","scale":{"domain":[-60,30],"nice":false,"zero":false},
"axis":{"orient":"left","values":[-58,-56,-54,-52,-48,-46,-44,-42,-38,-36,-34,-32,-28,-26,-24,-22,-18,-16,-14,-12,-8,-6,-4,-2,2,4,6,8,12,14,16,18,22,24,26,28],"labels":false,"grid":false,"domain":false,"title":null,"tickSize":3,"tickColor":"black","tickWidth":0.9}}
}},
{"data":{"values":[{"label":"CCRES"}]},
"mark":{"type":"text","font":"DejaVu Sans","fontSize":15,"color":"#1b1f3b","align":"center","baseline":"middle"},
"encoding":{
"text":{"field":"label"},
"x":{"datum":1242.1,"type":"quantitative","scale":{"domain":[0,1440],"nice":false,"zero":false},
"axis":{"orient":"top","labels":false,"ticks":false,"grid":false,"domain":false,"title":"Reflectivity from RPG-Radiometer Physics RPG-FMCW-94 DCR and OTT HydroMet Parsivel2 disdrometer","titleFont":"DejaVu Sans","titleFontSize":16,"titleFontStyle":"italic","titleFontWeight":"normal","titleColor":"black","titlePadding":6}},
"y":{"datum":35.23,"type":"quantitative","scale":{"domain":[-60,30],"nice":false,"zero":false},
"axis":{"orient":"left","values":[-50,-40,-30,-20,-10,0,10,20],"labels":false,"ticks":false,"domain":false,"title":null,"grid":true,"gridDash":[4,3],"gridColor":"#d3d3d3","gridWidth":0.8}}
}},
{"data":{"values":[{"part":"arc"}]},
"mark":{"type":"arc","theta":-0.82,"theta2":0.82,"radius":96,"radius2":92.5,"fill":{"gradient":"linear","x1":0,"y1":0,"x2":1,"y2":0,"stops":[{"offset":0,"color":"#8fd3cd"},{"offset":0.35,"color":"#3d9aa5"},{"offset":0.6,"color":"#1f4a6e"},{"offset":1,"color":"#1b1f3b"}]}},
"encoding":{
"x":{"datum":1242.5,"type":"quantitative","scale":{"domain":[0,1440],"nice":false,"zero":false},
"axis":{"orient":"bottom","values":[180,360,540,720,900,1080,1260],"labels":false,"ticks":false,"domain":false,"title":null,"grid":true,"gridDash":[4,3],"gridColor":"#d3d3d3","gridWidth":0.8}},
"y":{"datum":33.08,"type":"quantitative","scale":{"domain":[-60,30],"nice":false,"zero":false},"axis":null}
}},
{"data":{"values":[{"part":"mast"}]},
"mark":{"type":"rule","color":"#1b1f3b","strokeWidth":1.5},
"encoding":{
"x":{"datum":1287.5,"type":"quantitative","scale":{"domain":[0,1440],"nice":false,"zero":false},"axis":null},
"y":{"datum":45.2,"type":"quantitative","scale":{"domain":[-60,30],"nice":false,"zero":false},"axis":null},
"y2":{"datum":39.5}
}}
]
}
